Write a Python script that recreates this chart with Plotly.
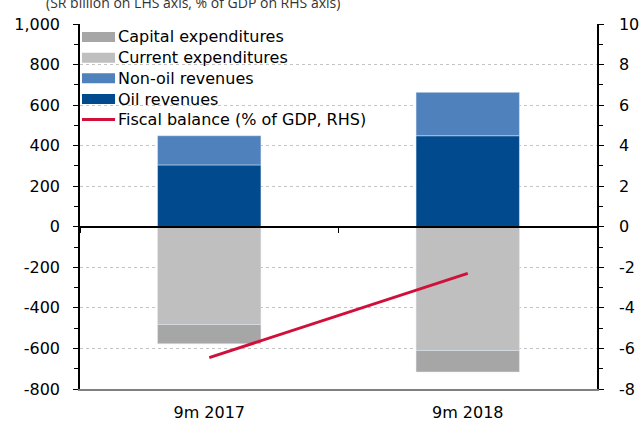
import plotly.graph_objects as go

categories = ["9m 2017", "9m 2018"]
oil_revenues = [305, 449]
non_oil_revenues = [144, 214]
current_expenditures = [-482, -610]
capital_expenditures = [-95, -106]
fiscal_balance = [-6.45, -2.3]

left_ticks = [-800, -600, -400, -200, 0, 200, 400, 600, 800, 1000]
left_ticktext = ["-800", "-600", "-400", "-200", "0", "200", "400", "600", "800", "1,000"]
right_ticks = [-8, -6, -4, -2, 0, 2, 4, 6, 8, 10]
right_ticktext = ["-8", "-6", "-4", "-2", "0", "2", "4", "6", "8", "10"]

legend_names = ["Capital expenditures", "Current expenditures", "Non-oil revenues",
                "Oil revenues", "Fiscal balance (% of GDP, RHS)"]

C_CAP = "#A6A6A6"
C_CUR = "#BFBFBF"
C_NON = "#4F81BD"
C_OIL = "#004A8D"
C_LINE = "#D0103A"
FONT = "DejaVu Sans"

W, H = 640, 421
ML, MR, MT, MB = 80, 43, 24, 32
PW, PH = W - ML - MR, H - MT - MB


def px_x(px):
    return (px - ML) / PW


def px_y(py):
    return (H - MB - py) / PH


fig = go.Figure()
fig.add_bar(x=categories, y=oil_revenues, marker_color=C_OIL, width=0.4, name="Oil revenues")
fig.add_bar(x=categories, y=non_oil_revenues, marker_color=C_NON, width=0.4, name="Non-oil revenues")
fig.add_bar(x=categories, y=current_expenditures, marker_color=C_CUR, width=0.4, name="Current expenditures")
fig.add_bar(x=categories, y=capital_expenditures, marker_color=C_CAP, width=0.4, name="Capital expenditures")
fig.add_scatter(x=categories, y=fiscal_balance, yaxis="y2", mode="lines",
                line=dict(color=C_LINE, width=3), name="Fiscal balance (% of GDP, RHS)")
# invisible trace on the zero-line axis so its category ticks exist
fig.add_scatter(x=categories, y=[0, 0], xaxis="x2", mode="lines", line=dict(width=0),
                hoverinfo="skip", showlegend=False, opacity=0)

fig.update_layout(
    width=W, height=H,
    margin=dict(l=ML, r=MR, t=MT, b=MB, autoexpand=False),
    paper_bgcolor="white", plot_bgcolor="white",
    barmode="relative",
    font=dict(family=FONT, size=16, color="#000000"),
    showlegend=False,
    xaxis=dict(type="category", range=[-0.5, 1.5], showline=True, linecolor="#808080",
               linewidth=2, ticks="", showgrid=False, zeroline=False,
               tickfont=dict(family=FONT, size=16), ticklabelstandoff=8),
    xaxis2=dict(type="category", overlaying="x", anchor="free", position=800 / 1800,
                range=[-0.5, 1.5], showline=True, linecolor="#000000", linewidth=1.5,
                ticks="outside", tickson="boundaries", ticklen=5, tickcolor="#000000",
                showticklabels=False, showgrid=False, zeroline=False, side="bottom"),
    yaxis=dict(range=[-800, 1000], tickvals=left_ticks, ticktext=left_ticktext,
               showline=True, linecolor="#000000", linewidth=1.5, ticks="outside",
               ticklen=5, tickcolor="#000000", zeroline=False,
               showgrid=True, gridcolor="#C4C4C4", griddash="dot", gridwidth=1,
               minor=dict(dtick=100, tick0=0, ticks="outside", ticklen=4, tickcolor="#000000", showgrid=False),
               tickfont=dict(family=FONT, size=16), ticklabelstandoff=10),
    yaxis2=dict(range=[-8, 10], tickvals=right_ticks, ticktext=right_ticktext, overlaying="y",
                side="right", anchor="x", showline=True, linecolor="#000000", linewidth=1.5,
                ticks="outside", ticklen=5, tickcolor="#000000", showgrid=False, zeroline=False,
                minor=dict(dtick=1, tick0=0, ticks="outside", ticklen=4, tickcolor="#000000", showgrid=False),
                tickfont=dict(family=FONT, size=16), ticklabelstandoff=12),
)

# manual legend with wide swatches
legend_colors = [C_CAP, C_CUR, C_NON, C_OIL, C_LINE]
row_y = [37, 57.7, 78.3, 99, 119.5]
for i, (name, col) in enumerate(zip(legend_names, legend_colors)):
    cy = row_y[i]
    hh = 5 if i < 4 else 1.4
    fig.add_shape(type="rect", xref="paper", yref="paper",
                  x0=px_x(82), x1=px_x(115), y0=px_y(cy + hh), y1=px_y(cy - hh),
                  fillcolor=col, line=dict(width=0), layer="above")
    fig.add_annotation(text=name, xref="paper", yref="paper", x=px_x(116), y=px_y(cy),
                       xanchor="left", yanchor="middle", showarrow=False,
                       font=dict(family=FONT, size=16, color="#000000"))

fig.add_annotation(text="(SR billion on LHS axis, % of GDP on RHS axis)", xref="paper", yref="paper",
                   x=px_x(44), y=px_y(14), xanchor="left", yanchor="bottom", showarrow=False,
                   font=dict(family="Open Sans", size=14, color="#333333"))

fig.write_html("out.html", config={"displayModeBar": False},
               post_script="document.body.style.margin='0';document.body.style.padding='0';")
